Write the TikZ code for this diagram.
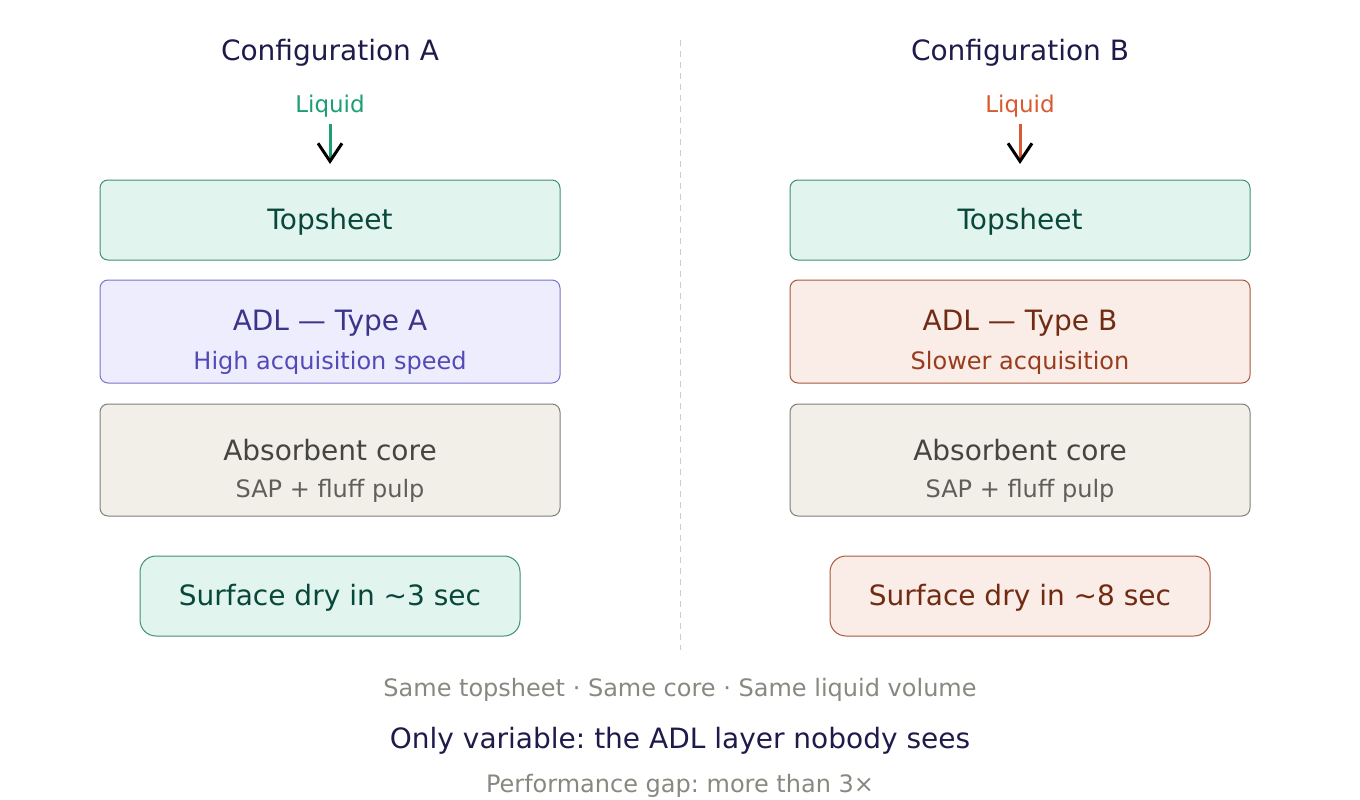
\documentclass[tikz,border=0pt]{standalone}
\usepackage{fontspec}
\setmainfont{DejaVu Sans}
\usetikzlibrary{arrows.meta}
\frenchspacing
\definecolor{navy}{HTML}{1E1B4B}
\definecolor{tsfill}{HTML}{E1F5EE}
\definecolor{tsdraw}{HTML}{3F8F74}
\definecolor{tstext}{HTML}{08473A}
\definecolor{afill}{HTML}{EEEDFE}
\definecolor{adraw}{HTML}{7A72CC}
\definecolor{atext}{HTML}{3C3489}
\definecolor{asub}{HTML}{534AB7}
\definecolor{bfill}{HTML}{FAECE7}
\definecolor{bdraw}{HTML}{A8583A}
\definecolor{btext}{HTML}{712B13}
\definecolor{bsub}{HTML}{993C1D}
\definecolor{cfill}{HTML}{F1EFE8}
\definecolor{cdraw}{HTML}{7F7E7A}
\definecolor{ctext}{HTML}{444441}
\definecolor{csub}{HTML}{5F5E5A}
\definecolor{liqA}{HTML}{1D9E75}
\definecolor{liqB}{HTML}{D85A30}
\definecolor{greytext}{HTML}{888780}
\definecolor{divider}{HTML}{CCCCCC}
\begin{document}
\begin{tikzpicture}[x=1pt,y=-1pt,
  layer/.style={draw, line width=1pt, rounded corners=8pt, minimum width=460pt, inner sep=0pt},
  result/.style={draw, line width=1pt, rounded corners=16pt, minimum width=380pt, minimum height=80pt, inner sep=0pt},
  big/.style={font=\fontsize{28}{34}\selectfont},
  small/.style={font=\fontsize{24}{29}\selectfont},
  liq/.style={font=\fontsize{23}{28}\selectfont},
  flow/.style={line width=3pt, -{Straight Barb[black, length=18pt, width=24pt, line width=3pt]}}
]
\useasboundingbox (0,0) rectangle (1360,800);
% divider
\draw[divider, line width=1pt, dash pattern=on 6pt off 5pt] (680,40) -- (680,650);

% ---------- Configuration A ----------
\node[big, text=navy] (titleA) at (330,53) {Configuration A};
\node[liq, text=liqA] (liqA) at (330,106) {Liquid};
\coordinate (liqAtop) at (330,124);
\coordinate (liqAend) at (330,164);
\draw[flow, liqA] (liqAtop) -- (liqAend);
\node[layer, fill=tsfill, draw=tsdraw, minimum height=80pt] (tsA) at (330,220) {};
\node[big, text=tstext] (tsAt) at (330,222) {Topsheet};
\node[layer, fill=afill, draw=adraw, minimum height=103pt] (adlA) at (330,331.5) {};
\node[big, text=atext] (adlAt) at (330,323) {ADL — Type A};
\node[small, text=asub] (adlAs) at (330,363) {High acquisition speed};
\node[layer, fill=cfill, draw=cdraw, minimum height=112pt] (coreA) at (330,460) {};
\node[big, text=ctext] (coreAt) at (330,450) {Absorbent core};
\node[small, text=csub] (coreAs) at (330,491) {SAP + fluff pulp};
\node[result, fill=tsfill, draw=tsdraw] (resA) at (330,596) {};
\node[big, text=tstext] (resAt) at (330,598) {Surface dry in \textasciitilde3 sec};

% ---------- Configuration B ----------
\node[big, text=navy] (titleB) at (1020,53) {Configuration B};
\node[liq, text=liqB] (liqB) at (1020,106) {Liquid};
\coordinate (liqBtop) at (1020,124);
\coordinate (liqBend) at (1020,164);
\draw[flow, liqB] (liqBtop) -- (liqBend);
\node[layer, fill=tsfill, draw=tsdraw, minimum height=80pt] (tsB) at (1020,220) {};
\node[big, text=tstext] (tsBt) at (1020,222) {Topsheet};
\node[layer, fill=bfill, draw=bdraw, minimum height=103pt] (adlB) at (1020,331.5) {};
\node[big, text=btext] (adlBt) at (1020,323) {ADL — Type B};
\node[small, text=bsub] (adlBs) at (1020,363) {Slower acquisition};
\node[layer, fill=cfill, draw=cdraw, minimum height=112pt] (coreB) at (1020,460) {};
\node[big, text=ctext] (coreBt) at (1020,450) {Absorbent core};
\node[small, text=csub] (coreBs) at (1020,491) {SAP + fluff pulp};
\node[result, fill=bfill, draw=bdraw] (resB) at (1020,596) {};
\node[big, text=btext] (resBt) at (1020,598) {Surface dry in \textasciitilde8 sec};

% ---------- footer ----------
\node[small, text=greytext] (same) at (680,690) {Same topsheet · Same core · Same liquid volume};
\node[big, text=navy] (only) at (680,741) {Only variable: the ADL layer nobody sees};
\node[small, text=greytext] (gap) at (680,786) {Performance gap: more than 3×};
\end{tikzpicture}
\end{document}
